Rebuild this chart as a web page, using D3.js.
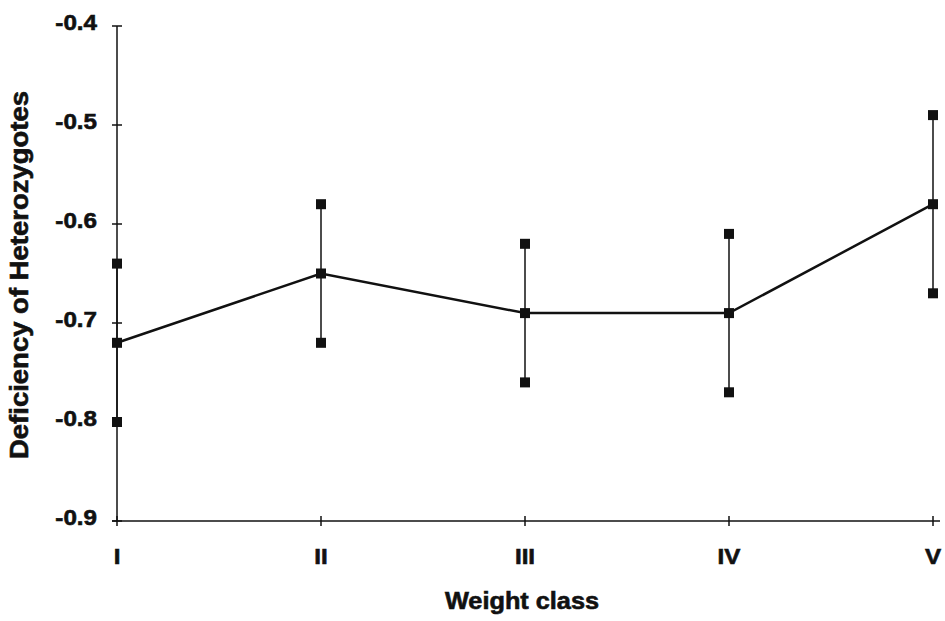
<!DOCTYPE html>
<html>
<head>
<meta charset="utf-8">
<script src="https://cdn.jsdelivr.net/npm/d3@7"></script>
<style>
  body { margin: 0; background: #fff; }
  text { font-family: "Liberation Sans", Arial, sans-serif; font-weight: bold; fill: #111; stroke: #111; stroke-width: 0.6px; }
</style>
</head>
<body>
<div id="chart"></div>
<script>
// data
var classes = ["I", "II", "III", "IV", "V"];
var means = [-0.72, -0.65, -0.69, -0.69, -0.58];
var upper = [-0.64, -0.58, -0.62, -0.61, -0.49];
var lower = [-0.80, -0.72, -0.76, -0.77, -0.67];
var yTicks = [-0.4, -0.5, -0.6, -0.7, -0.8, -0.9];

var width = 945, height = 621;
var markSize = 10;
var stretch = 1.1;   // the scanned figure's type is a bit wide

var svg = d3.select("#chart").append("svg")
    .attr("width", width)
    .attr("height", height);

var x = d3.scalePoint()
    .domain(classes)
    .range([117, 933]);

var y = d3.scaleLinear()
    .domain([-0.9, -0.4])
    .range([521, 26]);

var data = classes.map(function(c, i) {
    return {cls: c, mean: means[i], hi: upper[i], lo: lower[i]};
});

// y axis
var yAxis = svg.append("g")
    .attr("transform", "translate(" + x("I") + ",0)");
yAxis.append("line")
    .attr("y1", y(-0.4)).attr("y2", y(-0.9))
    .attr("stroke", "#111").attr("stroke-width", 1.5);
yAxis.selectAll(".ytick")
    .data(yTicks)
    .enter().append("line")
    .attr("class", "ytick")
    .attr("x1", -5).attr("x2", 5)
    .attr("y1", function(d) { return y(d); })
    .attr("y2", function(d) { return y(d); })
    .attr("stroke", "#111").attr("stroke-width", 1.5);
yAxis.selectAll(".ylabel")
    .data(yTicks)
    .enter().append("text")
    .attr("class", "ylabel")
    .attr("transform", function(d) {
        return "translate(-20," + (y(d) + 4) + ") scale(" + stretch + ",1)";
    })
    .attr("text-anchor", "end")
    .style("font-size", "22px")
    .text(function(d) { return d.toFixed(1); });

// x axis
var xAxis = svg.append("g")
    .attr("transform", "translate(0," + y(-0.9) + ")");
xAxis.append("line")
    .attr("x1", x("I") - 5).attr("x2", 940)
    .attr("stroke", "#111").attr("stroke-width", 1.5);
xAxis.selectAll(".xtick")
    .data(classes)
    .enter().append("line")
    .attr("class", "xtick")
    .attr("x1", function(d) { return x(d); })
    .attr("x2", function(d) { return x(d); })
    .attr("y1", -5).attr("y2", 5)
    .attr("stroke", "#111").attr("stroke-width", 1.5);
xAxis.selectAll(".xlabel")
    .data(classes)
    .enter().append("text")
    .attr("class", "xlabel")
    .attr("transform", function(d) {
        return "translate(" + x(d) + ",43) scale(" + stretch + ",1)";
    })
    .attr("text-anchor", "middle")
    .style("font-size", "22px")
    .text(function(d) { return d; });

// axis titles
svg.append("text")
    .attr("transform", "translate(28,275) rotate(-90) scale(" + stretch + ",1)")
    .attr("text-anchor", "middle")
    .style("font-size", "25px")
    .text("Deficiency of Heterozygotes");

svg.append("text")
    .attr("transform", "translate(522,609) scale(" + stretch + ",1)")
    .attr("text-anchor", "middle")
    .style("font-size", "23px")
    .text("Weight class");

// error bars
svg.selectAll(".err")
    .data(data)
    .enter().append("line")
    .attr("class", "err")
    .attr("x1", function(d) { return x(d.cls); })
    .attr("x2", function(d) { return x(d.cls); })
    .attr("y1", function(d) { return y(d.hi); })
    .attr("y2", function(d) { return y(d.lo); })
    .attr("stroke", "#111").attr("stroke-width", 1.5);

// mean line
var line = d3.line()
    .x(function(d) { return x(d.cls); })
    .y(function(d) { return y(d.mean); });

svg.append("path")
    .datum(data)
    .attr("d", line)
    .attr("fill", "none")
    .attr("stroke", "#111")
    .attr("stroke-width", 2.5);

// square markers for mean, upper and lower values
var marks = [];
data.forEach(function(d) {
    marks.push({cls: d.cls, v: d.mean});
    marks.push({cls: d.cls, v: d.hi});
    marks.push({cls: d.cls, v: d.lo});
});

svg.selectAll(".mark")
    .data(marks)
    .enter().append("rect")
    .attr("class", "mark")
    .attr("x", function(d) { return x(d.cls) - markSize / 2; })
    .attr("y", function(d) { return y(d.v) - markSize / 2; })
    .attr("width", markSize)
    .attr("height", markSize)
    .attr("fill", "#111");
</script>
</body>
</html>
